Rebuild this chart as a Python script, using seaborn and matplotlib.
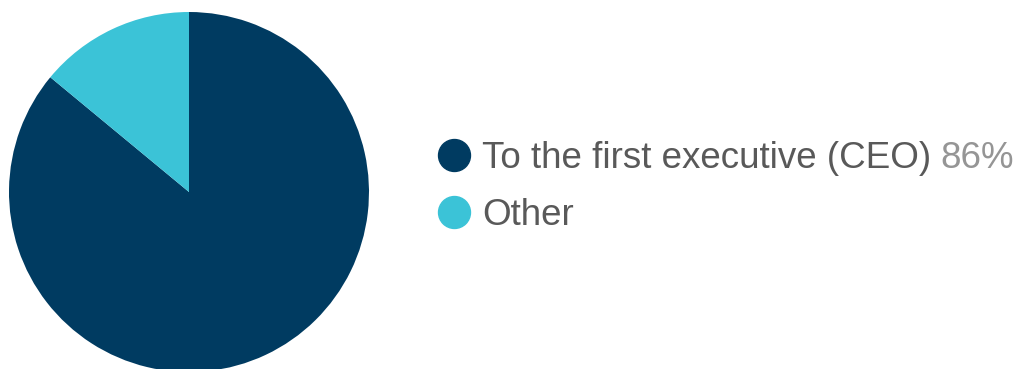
import matplotlib
matplotlib.use("Agg")
import matplotlib.pyplot as plt
from matplotlib.lines import Line2D
import seaborn as sns

# Reporting line shares
categories = ["To the first executive (CEO)", "Other"]
shares = [86, 14]
value_labels = ["86%", ""]
colors = ["#003b61", "#3bc3d7"]

sns.set_theme(style="white")
plt.rcParams["font.family"] = ["Liberation Sans", "DejaVu Sans"]

W, H = 1021, 369
fig = plt.figure(figsize=(W / 100, H / 100), dpi=100)
fig.patch.set_facecolor("white")

# Pie axes: center (189, 192) px, radius 180 px
cx, cy, r = 189, 192, 180
ax = fig.add_axes([(cx - r) / W, (H - cy - r) / H, 2 * r / W, 2 * r / H])
ax.pie(shares, colors=colors, startangle=90, counterclock=False,
       radius=1, wedgeprops=dict(linewidth=0))
ax.set_xlim(-1, 1)
ax.set_ylim(-1, 1)
ax.set_aspect("equal")
ax.axis("off")

# Legend
fs = 26.5
handles = [Line2D([0], [0], marker="o", linestyle="none", markersize=23,
                  markerfacecolor=c, markeredgecolor=c) for c in colors]
leg = fig.legend(handles, categories, loc="upper left",
                 bbox_to_anchor=(436 / W, 1 - 141 / H),
                 frameon=False, fontsize=fs, handletextpad=0.26,
                 labelspacing=0.6, handlelength=1.0, borderpad=0,
                 borderaxespad=0)
for t in leg.get_texts():
    t.set_color("#595959")

# Value suffix after each legend label
fig.canvas.draw()
renderer = fig.canvas.get_renderer()
for t, v in zip(leg.get_texts(), value_labels):
    if not v:
        continue
    bb = t.get_window_extent(renderer)
    fig.text((bb.x1 + 9) / W, bb.y0 / H, v, fontsize=fs, color="#959595",
             ha="left", va="bottom", transform=fig.transFigure)

fig.savefig("out.png", dpi=100, facecolor="white")
